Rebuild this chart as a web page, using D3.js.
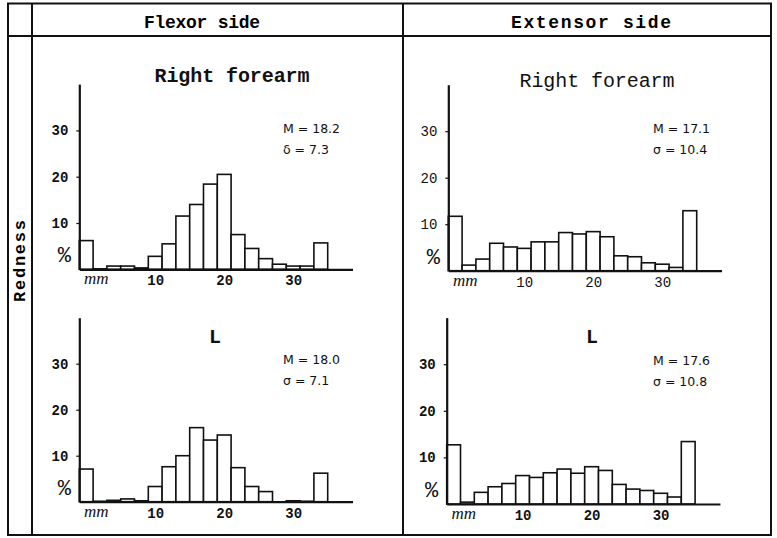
<!DOCTYPE html>
<html>
<head>
<meta charset="utf-8">
<script src="https://cdn.jsdelivr.net/npm/d3@7"></script>
<style>
  body { margin: 0; background: #fff; }
  svg { display: block; }
</style>
</head>
<body>
<div id="chart"></div>
<script>
// bin centres in mm (bins are 2 mm wide)
const binMm = [0, 2, 4, 6, 8, 10, 12, 14, 16, 18, 20, 22, 24, 26, 28, 30, 32, 34];

// percentages
const flexorRight   = [6.2, 0.1, 0.7, 0.7, 0.3, 2.8, 5.5, 11.5, 14.0, 18.4, 20.5, 7.5, 4.5, 2.3, 1.1, 0.7, 0.7, 5.7];
const extensorRight = [11.7, 1.2, 2.5, 5.9, 5.1, 4.8, 6.2, 6.2, 8.2, 7.9, 8.4, 7.3, 3.2, 3.0, 1.7, 1.4, 0.7, 12.9];
const flexorLeft    = [7.1, 0.1, 0.3, 0.6, 0.2, 3.3, 7.6, 10.0, 16.1, 13.4, 14.5, 7.4, 3.3, 2.2, 0, 0.2, 0.1, 6.2];
const extensorLeft  = [12.7, 0.4, 2.5, 3.7, 4.4, 6.1, 5.7, 6.7, 7.5, 6.6, 8.0, 7.2, 4.2, 3.2, 2.9, 2.3, 1.5, 13.4];

const columnHeads = ["Flexor side", "Extensor side"];
const rowHead = "Redness";
const panelTitles = ["Right forearm", "Right forearm", "L", "L"];
const meanLabels = ["M = 18.2", "M = 17.1", "M = 18.0", "M = 17.6"];
const sdLabels = ["δ = 7.3", "σ = 10.4", "σ = 7.1", "σ = 10.8"];
const yTicks = [10, 20, 30];
const xTicks = [10, 20, 30];

const width = 777;
const height = 538;
const mono = "'Liberation Mono', 'DejaVu Sans Mono', monospace";

const svg = d3.select("#chart").append("svg")
  .attr("width", width)
  .attr("height", height)
  .attr("viewBox", [0, 0, width, height]);

// table frame
const frame = svg.append("g")
  .attr("stroke", "#111")
  .attr("stroke-width", 2)
  .attr("fill", "none");
frame.append("rect").attr("x", 8).attr("y", 3.5).attr("width", 763).attr("height", 531.5);
frame.append("line").attr("x1", 8).attr("x2", 771).attr("y1", 36).attr("y2", 36);
frame.append("line").attr("x1", 32).attr("x2", 32).attr("y1", 3.5).attr("y2", 535);
frame.append("line").attr("x1", 403).attr("x2", 403).attr("y1", 3.5).attr("y2", 535);

svg.selectAll("text.head")
  .data(columnHeads)
  .join("text")
  .attr("class", "head")
  .attr("x", (d, i) => i === 0 ? 202 : 591)
  .attr("y", 28)
  .attr("text-anchor", "middle")
  .attr("font-family", mono)
  .attr("font-weight", "bold")
  .attr("font-size", 18)
  .attr("textLength", (d, i) => i === 0 ? 116 : 160)
  .attr("lengthAdjust", "spacing")
  .text(d => d);

svg.append("text")
  .attr("transform", "translate(25,261) rotate(-90)")
  .attr("text-anchor", "middle")
  .attr("font-family", mono)
  .attr("font-weight", "bold")
  .attr("font-size", 17)
  .attr("textLength", 82)
  .attr("lengthAdjust", "spacing")
  .text(rowHead);

// panel layout
const panels = [
  {values: flexorRight,   ax: 79.3,  base: 269.3, unit: 4.63, bold: true,  tx: 232, ty: 82,  sx: 283, sy: 133, tlen: 155},
  {values: extensorRight, ax: 448.3, base: 270.7, unit: 4.65, bold: false, tx: 597, ty: 87,  sx: 653, sy: 133, tlen: 155},
  {values: flexorLeft,    ax: 79.3,  base: 501.7, unit: 4.60, bold: true,  tx: 215, ty: 343, sx: 283, sy: 364, tlen: 0},
  {values: extensorLeft,  ax: 446.7, base: 504,   unit: 4.66, bold: true,  tx: 592, ty: 343, sx: 653, sy: 365, tlen: 0}
];
const mmPx = 6.9;

panels.forEach((p, k) => {
  const x = d3.scaleLinear()
    .domain([-1, 38.6])
    .range([p.ax, p.ax + 39.6 * mmPx]);
  const y = d3.scaleLinear()
    .domain([0, 40])
    .range([p.base, p.base - 40 * p.unit]);

  const g = svg.append("g");

  // bars
  g.append("g")
    .selectAll("rect")
    .data(p.values.map((v, i) => ({mm: binMm[i], v})).filter(d => d.v > 0))
    .join("rect")
    .attr("x", d => x(d.mm - 1))
    .attr("width", d => x(d.mm + 1) - x(d.mm - 1))
    .attr("y", d => y(d.v))
    .attr("height", d => y(0) - y(d.v))
    .attr("fill", "#fff")
    .attr("stroke", "#111")
    .attr("stroke-width", 1.6);

  // y axis
  const yAxis = g.append("g")
    .attr("transform", `translate(${p.ax},0)`)
    .call(d3.axisLeft(y).tickValues(yTicks).tickSize(3).tickSizeOuter(0).tickPadding(8));
  yAxis.select(".domain").attr("stroke", "#111").attr("stroke-width", 2.2);
  yAxis.selectAll(".tick line").attr("stroke", "#111").attr("stroke-width", 1.2);
  yAxis.selectAll(".tick text")
    .attr("font-family", mono)
    .attr("font-weight", p.bold ? "bold" : "normal")
    .attr("font-size", 14)
    .attr("fill", "#111");

  // x axis
  const xAxis = g.append("g")
    .attr("transform", `translate(0,${p.base})`)
    .call(d3.axisBottom(x).tickValues(xTicks).tickSize(0).tickSizeOuter(0).tickPadding(6));
  xAxis.select(".domain").attr("stroke", "#111").attr("stroke-width", 2.2);
  xAxis.selectAll(".tick text")
    .attr("font-family", mono)
    .attr("font-weight", p.bold ? "bold" : "normal")
    .attr("font-size", 14)
    .attr("fill", "#111");

  // unit labels
  g.append("text")
    .attr("x", p.ax - 15)
    .attr("y", p.base - 7)
    .attr("text-anchor", "middle")
    .attr("font-family", mono)
    .attr("font-size", 22)
    .attr("fill", "#111")
    .text("%");
  g.append("text")
    .attr("x", p.ax + 17)
    .attr("y", p.base + 15)
    .attr("text-anchor", "middle")
    .attr("font-family", "'Liberation Serif', 'DejaVu Serif', serif")
    .attr("font-style", "italic")
    .attr("font-size", 17)
    .attr("fill", "#111")
    .text("mm");

  // title
  const t = g.append("text")
    .attr("x", p.tx)
    .attr("y", p.ty)
    .attr("text-anchor", "middle")
    .attr("font-family", mono)
    .attr("font-weight", p.bold ? "bold" : "normal")
    .attr("font-size", 20)
    .attr("fill", "#111")
    .text(panelTitles[k]);
  if (p.tlen) t.attr("textLength", p.tlen).attr("lengthAdjust", "spacing");

  // statistics
  g.append("text")
    .attr("x", p.sx).attr("y", p.sy)
    .attr("font-family", "'DejaVu Sans', sans-serif")
    .attr("font-size", 12.5)
    .attr("fill", "#111")
    .text(meanLabels[k]);
  g.append("text")
    .attr("x", p.sx).attr("y", p.sy + 21)
    .attr("font-family", "'DejaVu Sans', sans-serif")
    .attr("font-size", 12.5)
    .attr("fill", "#111")
    .text(sdLabels[k]);
});
</script>
</body>
</html>
